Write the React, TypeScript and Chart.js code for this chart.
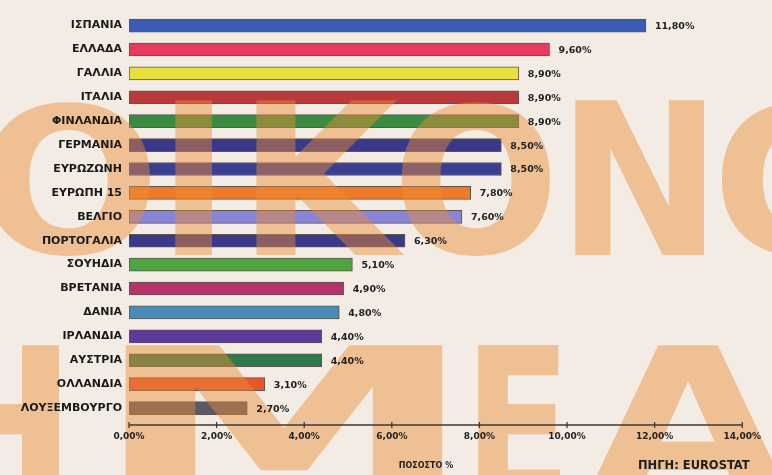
import React, { useEffect, useRef } from 'react';
import { Chart, registerables } from 'chart.js';

Chart.register(...registerables);

const categories = [
  'ΙΣΠΑΝΙΑ', 'ΕΛΛΑΔΑ', 'ΓΑΛΛΙΑ', 'ΙΤΑΛΙΑ', 'ΦΙΝΛΑΝΔΙΑ', 'ΓΕΡΜΑΝΙΑ', 'ΕΥΡΩΖΩΝΗ',
  'ΕΥΡΩΠΗ 15', 'ΒΕΛΓΙΟ', 'ΠΟΡΤΟΓΑΛΙΑ', 'ΣΟΥΗΔΙΑ', 'ΒΡΕΤΑΝΙΑ', 'ΔΑΝΙΑ', 'ΙΡΛΑΝΔΙΑ',
  'ΑΥΣΤΡΙΑ', 'ΟΛΛΑΝΔΙΑ', 'ΛΟΥΞΕΜΒΟΥΡΓΟ',
];
const values = [11.8, 9.6, 8.9, 8.9, 8.9, 8.5, 8.5, 7.8, 7.6, 6.3, 5.1, 4.9, 4.8, 4.4, 4.4, 3.1, 2.7];
const barColors = [
  '#3d5cb8', '#e83a5e', '#e6e13c', '#b93a3a', '#3b8c42', '#3a3888', '#3b3f92',
  '#ee7a2a', '#8a84d6', '#3a3a88', '#4ea43e', '#b4346a', '#4a8ab8', '#5b3a9a',
  '#2f7a4c', '#e8552e', '#5a5a66',
];
const xTickStep = 2;
const xMin = 0;
const xMax = 14;
const axisTitle = 'ΠΟΣΟΣΤΟ %';
const sourceText = 'ΠΗΓΗ: EUROSTAT';

const fmt = (v: number) => v.toFixed(2).replace('.', ',') + '%';

// decorative watermark letters of the scanned page: [char, left, right, top, bottom]
const watermarkLetters: [string, number, number, number, number][] = [
  ['Ο', -15, 150, 100, 255],
  ['Ι', 175, 212, 100, 255],
  ['Κ', 256, 405, 100, 255],
  ['Ο', 400, 550, 100, 255],
  ['Ν', 575, 705, 100, 255],
  ['Ο', 720, 880, 100, 255],
  ['Η', -70, 60, 345, 500],
  ['Μ', 125, 445, 345, 500],
  ['Ε', 478, 560, 345, 500],
  ['Α', 585, 790, 345, 500],
];

const FONT = "'DejaVu Sans', sans-serif";

function fitLetter(ctx: CanvasRenderingContext2D, ch: string, l: number, r: number, t: number, b: number) {
  ctx.font = `bold 100px ${FONT}`;
  const m = ctx.measureText(ch);
  const w = m.actualBoundingBoxLeft + m.actualBoundingBoxRight;
  const h = m.actualBoundingBoxAscent + m.actualBoundingBoxDescent;
  ctx.save();
  ctx.translate(l, t);
  ctx.scale((r - l) / w, (b - t) / h);
  ctx.textAlign = 'left';
  ctx.textBaseline = 'alphabetic';
  ctx.fillText(ch, m.actualBoundingBoxLeft, m.actualBoundingBoxAscent);
  ctx.restore();
}

const paperPlugin = {
  id: 'paper',
  beforeDraw(chart: any) {
    const ctx = chart.ctx;
    ctx.save();
    ctx.fillStyle = '#f2ece4';
    ctx.fillRect(0, 0, chart.width, chart.height);
    ctx.restore();
  },
  afterDatasetsDraw(chart: any) {
    const ctx = chart.ctx;
    ctx.save();
    ctx.fillStyle = 'rgba(236,140,55,0.46)';
    for (const [ch, l, r, t, b] of watermarkLetters) fitLetter(ctx, ch, l, r, t, b);
    ctx.restore();
  },
  afterDraw(chart: any) {
    const ctx = chart.ctx;
    const xs = chart.scales.x;
    const area = chart.chartArea;
    ctx.save();
    // axis line with ticks
    const y0 = area.bottom + 5;
    ctx.strokeStyle = '#3a3a3a';
    ctx.lineWidth = 1.3;
    ctx.beginPath();
    ctx.moveTo(xs.getPixelForValue(xMin), y0);
    ctx.lineTo(xs.getPixelForValue(xMax), y0);
    for (let v = xMin; v <= xMax; v += xTickStep) {
      const px = xs.getPixelForValue(v);
      ctx.moveTo(px, y0 - 3);
      ctx.lineTo(px, y0 + 3);
    }
    ctx.stroke();
    // value labels
    const meta = chart.getDatasetMeta(0);
    ctx.fillStyle = '#1e1e1e';
    ctx.font = `bold 9.5px ${FONT}`;
    ctx.textAlign = 'left';
    ctx.textBaseline = 'middle';
    meta.data.forEach((bar: any, i: number) => {
      ctx.fillText(fmt(values[i]), bar.x + 9, bar.y + 1);
    });
    // axis title and source
    ctx.font = `bold 8px ${FONT}`;
    ctx.textAlign = 'center';
    ctx.fillText(axisTitle, 426, 466);
    ctx.font = `bold 11.5px ${FONT}`;
    ctx.textAlign = 'left';
    ctx.fillText(sourceText, 638, 466);
    ctx.restore();
  },
};

export default function App() {
  const ref = useRef<HTMLCanvasElement>(null);
  useEffect(() => {
    document.body.style.margin = '0';
    const chart = new Chart(ref.current!, {
      type: 'bar',
      data: {
        labels: categories,
        datasets: [
          {
            data: values,
            backgroundColor: barColors,
            borderColor: 'rgba(40,35,30,0.75)',
            borderWidth: 1,
            borderSkipped: false,
            barThickness: 13,
          },
        ],
      },
      options: {
        indexAxis: 'y',
        animation: false,
        responsive: true,
        maintainAspectRatio: false,
        layout: { padding: { top: 9, right: 24, bottom: 0, left: 0 } },
        plugins: { legend: { display: false }, tooltip: { enabled: false } },
        scales: {
          x: {
            min: xMin,
            max: xMax,
            grid: { display: false, drawTicks: false },
            border: { display: false },
            ticks: {
              z: 1,
              stepSize: xTickStep,
              padding: 11,
              maxRotation: 0,
              color: '#222',
              font: { family: FONT, weight: 'bold', size: 9 },
              callback: (v: any) => fmt(Number(v)),
            },
            afterFit: (s: any) => {
              s.height = 55;
            },
          },
          y: {
            grid: { display: false, drawTicks: false },
            border: { display: false },
            ticks: {
              z: 1,
              padding: 7,
              autoSkip: false,
              color: '#1a1a1a',
              font: { family: FONT, weight: 'bold', size: 11 },
            },
            afterFit: (s: any) => {
              s.width = 129;
            },
          },
        },
      } as any,
      plugins: [paperPlugin],
    });
    return () => chart.destroy();
  }, []);
  return (
    <div style={{ position: 'fixed', left: 0, top: 0, width: 772, height: 475 }}>
      <canvas ref={ref} />
    </div>
  );
}
